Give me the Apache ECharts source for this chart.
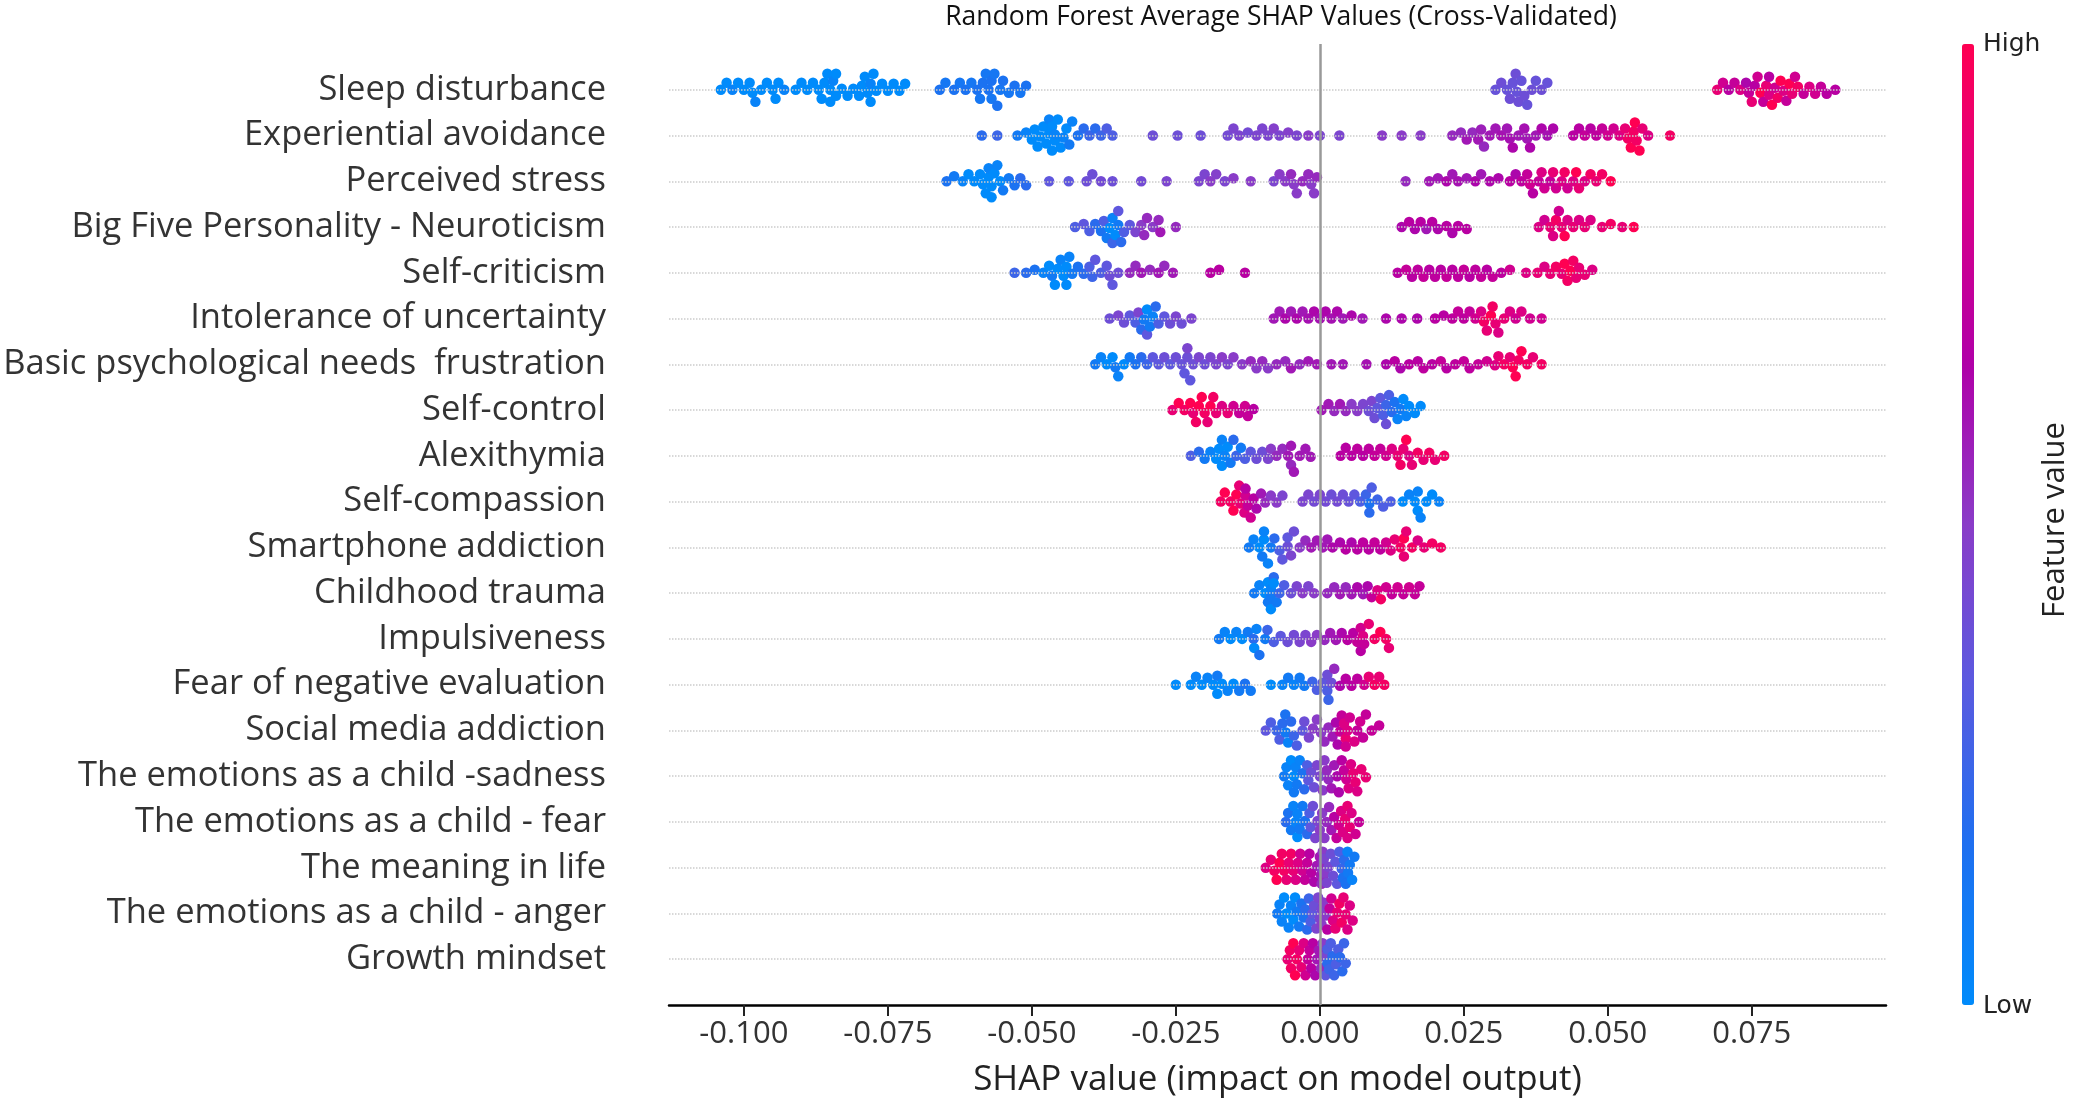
<!DOCTYPE html>
<html>
<head>
<meta charset="utf-8">
<title>Random Forest Average SHAP Values</title>
<script src="https://cdn.jsdelivr.net/npm/echarts@6/dist/echarts.min.js"></script>
<style>
  html, body { margin: 0; padding: 0; background: #fff; }
  #chart { width: 2077px; height: 1101px; }
</style>
</head>
<body>
<div id="chart"></div>
<script>
// feature names, top row first
var featureNames = [
  'Sleep disturbance',
  'Experiential avoidance',
  'Perceived stress',
  'Big Five Personality - Neuroticism',
  'Self-criticism',
  'Intolerance of uncertainty',
  'Basic psychological needs  frustration',
  'Self-control',
  'Alexithymia',
  'Self-compassion',
  'Smartphone addiction',
  'Childhood trauma',
  'Impulsiveness',
  'Fear of negative evaluation',
  'Social media addiction',
  'The emotions as a child -sadness',
  'The emotions as a child - fear',
  'The meaning in life',
  'The emotions as a child - anger',
  'Growth mindset'
];

var xTicks = [-0.1, -0.075, -0.05, -0.025, 0, 0.025, 0.05, 0.075];
var rowTicks = [0, 1, 2, 3, 4, 5, 6, 7, 8, 9, 10, 11, 12, 13, 14, 15, 16, 17, 18, 19];

// each point: [SHAP value in units of 0.001, feature value 0 (low) .. 1 (high)]
var sleepDisturbance = [
  [-104,0],[-103,0],[-102,.05],[-101,0],[-100,0],[-99,0],[-98.5,0],[-98,.05],[-97,0],[-96,0],[-95,0],[-94.5,0],
  [-94,0],[-93,.05],[-91,0],[-90,0],[-89,0],[-88,0],[-87,0],[-86.5,0],[-86,0],[-85.5,0],[-85,0],[-85,0],
  [-84.5,.05],[-84,0],[-84,0],[-83,0],[-82,0],[-81,0],[-80,0],[-79.5,0],[-79,0],[-78.5,0],[-78,0],[-78,.05],
  [-77.5,0],[-77,0],[-76,0],[-75,0],[-74,0],[-73,0],[-72,0],
  [-66,.15],[-65,.12],[-63.5,.15],[-62.5,.12],[-61.5,.15],[-60.5,.12],[-59.5,.15],[-59,.12],[-58.5,.15],[-58,.12],
  [-57.5,.15],[-57,.12],[-57,.15],[-56.5,.12],[-56,.15],[-55.5,.12],[-55,.15],[-54,.12],[-53,.15],[-52,.12],[-51,.15],
  [30.5,.38],[31.5,.4],[32.5,.38],[33,.4],[33.5,.38],[34,.4],[34.2,.38],[34.5,.4],[35,.38],[35.5,.4],[36,.38],
  [36.8,.4],[37.5,.38],[38.5,.4],[39.5,.38],
  [69,.9],[70,.8],[71,.7],[72,.75],[73,.85],[74,.65],[74.5,.75],[75,.9],[75.5,.7],[76,.8],[76.5,1],[77,.75],
  [77.5,.9],[78,.7],[78,.85],[78.5,1],[79,.8],[79.5,.95],[80,1],[80.5,.85],[81,.75],[81.5,1],[82,.9],[82.5,.8],
  [83,.95],[84,.75],[85,.85],[86,.8],[87,.75],[88,.7],[89.5,.7]
];
var experientialAvoidance = [
  [-58.7,.2],[-56,.25],[-52.5,.1],[-51,.05],[-50,0],[-49.5,0],[-49,0],[-48.5,0],[-48,0],[-47.5,0],[-47,0],[-47,.05],
  [-46.5,0],[-46.5,0],[-46,0],[-46,.05],[-45.5,0],[-45,0],[-44.5,.05],[-44,0],[-43.5,.1],[-43,.05],[-42,.15],
  [-41,.2],[-40,.25],[-39,.2],[-38,.25],[-37,.3],[-36,.3],[-29,.4],[-24.7,.4],[-20.7,.4],[-16,.42],[-15,.45],
  [-14,.45],[-12.5,.42],[-11,.45],[-10,.45],[-9,.45],[-8,.48],[-7,.45],[-5.5,.48],[-4,.45],[-2,.5],[0,.45],[3.4,.45],
  [10.8,.5],[14.2,.5],[17.5,.5],[23,.55],[24.5,.55],[25.5,.6],[26.5,.55],[27.5,.6],[28,.58],[28.5,.55],[29.5,.6],
  [30.5,.6],[31.5,.62],[32.5,.6],[33,.62],[33.5,.65],[34.5,.6],[35.5,.62],[36,.6],[36.5,.65],[37.5,.6],[38.5,.65],
  [39.5,.62],[40.5,.65],[44,.7],[45,.7],[46,.75],[47,.7],[48,.72],[49,.75],[50,.8],[51,.8],[52,.85],[53,.9],
  [53.5,.95],[54,1],[54.5,.95],[54.7,1],[55,.95],[55.5,1],[56,.9],[57,.85],[60.8,.95]
];
var perceivedStress = [
  [-64.8,.15],[-63.5,.1],[-62,.05],[-61,0],[-60,0],[-59,0],[-58.5,0],[-58,0],[-57.5,0],[-57.5,.05],[-57,0],[-57,0],
  [-56.5,0],[-56,.05],[-55.5,0],[-55,.1],[-54,.1],[-53,.15],[-52,.2],[-51,.2],[-47,.35],[-43.6,.35],[-40.5,.4],
  [-39.5,.4],[-38,.42],[-36,.4],[-31,.42],[-26.6,.45],[-21,.45],[-20,.45],[-19,.5],[-18,.48],[-16.5,.45],[-15,.5],
  [-12,.5],[-8,.45],[-7,.5],[-6,.5],[-5,.55],[-4.5,.5],[-4,.5],[-3,.55],[-2,.55],[-1.5,.5],[-1,.5],[-0.5,.55],
  [14.9,.55],[19,.6],[20.5,.6],[22,.65],[23,.6],[24,.62],[25.5,.6],[27,.65],[28,.6],[29.5,.65],[31,.65],[33,.7],
  [34,.65],[35,.72],[36,.75],[36.5,.8],[37,.7],[38,.75],[38.5,.85],[39,.8],[40,.75],[40.5,.9],[41,.8],[42,.85],
  [42.5,.95],[43,.8],[44,.85],[44.5,1],[45,.9],[46,.85],[47,.95],[48,.9],[49,.95],[50.5,1]
];
var neuroticism = [
  [-42.5,.3],[-41,.35],[-40,.3],[-39,.2],[-38,.15],[-37.5,.3],[-37,.1],[-36.5,0],[-36,.05],[-36,.25],[-35.5,0],
  [-35,.1],[-35,.35],[-34.5,.2],[-34,.3],[-33,.35],[-32,.45],[-31,.5],[-30.5,.55],[-30,.55],[-29,.5],[-28,.55],
  [-27.7,.6],[-25,.55],[14.2,.65],[15.5,.7],[16.5,.65],[17.5,.7],[18.5,.6],[19.5,.7],[20.5,.65],[22,.7],[23,.65],
  [24,.7],[25.5,.7],[38,.85],[39,.8],[40,.9],[40.5,.85],[41,.95],[41.5,.8],[42,.9],[42.5,1],[43,.85],[44,.9],
  [45,.85],[46,.9],[47,.85],[49,.9],[50.5,.95],[52.5,.9],[54.5,1]
];
var selfCriticism = [
  [-53,.25],[-51,.2],[-49.5,.15],[-48,.05],[-47,0],[-46.5,.1],[-46,0],[-45.5,0],[-45,.05],[-44.5,0],[-44,0],[-44,0],
  [-43.5,.05],[-43,.1],[-42,.15],[-41,.2],[-40,.3],[-39.5,.25],[-39,.35],[-38,.3],[-37,.35],[-36.5,.4],[-36,.35],
  [-35,.4],[-33,.55],[-32,.55],[-31,.6],[-29.5,.55],[-28,.6],[-27,.55],[-25.5,.6],[-19,.7],[-17.5,.7],[-13,.7],
  [13.5,.7],[15,.75],[16,.7],[17,.72],[18,.75],[19,.7],[20,.72],[21,.7],[22,.75],[23,.7],[24,.72],[25,.75],[26,.7],
  [27,.72],[28,.75],[29,.7],[30,.75],[31.5,.72],[33,.8],[35.8,.85],[37.8,.9],[39,.85],[40,.9],[41,.95],[42,.9],
  [42.5,1],[43,.95],[43.5,1],[44,.95],[44.5,.9],[45,.9],[46,.9],[47.3,.85]
];
var intolerance = [
  [-36.5,.4],[-35,.45],[-34,.4],[-33,.35],[-32,.3],[-31.5,.45],[-31,.2],[-30.5,.1],[-30,0],[-30,.35],[-29.5,.1],
  [-29,.05],[-28.5,.2],[-28,.3],[-27,.35],[-26,.4],[-25,.45],[-24,.4],[-22.3,.45],[-8,.6],[-7,.6],[-6,.65],[-5,.6],
  [-4,.65],[-3,.6],[-2,.62],[-1,.65],[0,.62],[1,.65],[2,.62],[3,.65],[4,.6],[5.5,.65],[7.4,.6],[11.5,.65],[14.2,.65],
  [16.9,.65],[20,.7],[21.5,.7],[23,.72],[24,.75],[25,.72],[26,.75],[27,.8],[28,.85],[28.5,.95],[29,.9],[29.7,1],
  [30,.95],[30.5,.9],[31,.85],[32,.9],[33,.85],[34,.8],[35,.85],[36.5,.8],[38.5,.8]
];
var basicNeeds = [
  [-39,.1],[-38,.05],[-37,0],[-36,0],[-35.5,.1],[-35,.05],[-34,0],[-33,.1],[-32,.15],[-31,.2],[-30,.25],[-29,.35],
  [-28,.35],[-27,.4],[-26,.35],[-25,.4],[-24,.38],[-23.5,.35],[-23,.4],[-23,.45],[-22.5,.35],[-22,.4],[-21,.45],
  [-20,.4],[-19,.45],[-18,.45],[-17,.5],[-16,.45],[-15,.5],[-13.5,.5],[-12,.55],[-11,.5],[-10,.55],[-9,.5],
  [-7.5,.55],[-6,.55],[-5,.6],[-3.5,.55],[-2,.6],[-0.5,.6],[2,.6],[4,.6],[8.1,.62],[11.5,.65],[13,.7],[14,.65],
  [15.5,.7],[17,.7],[18,.72],[19.5,.7],[21,.75],[22,.7],[23.5,.72],[25,.75],[26,.72],[27.5,.75],[29,.8],[30.4,.85],
  [31,.9],[32,.95],[33,.9],[33.5,1],[34,1],[34.5,.95],[35,1],[36,.95],[37,.9],[38.5,.95]
];
var selfControl = [
  [-25.6,.9],[-24.5,1],[-23.5,.95],[-22.5,1],[-22,.9],[-21.5,.95],[-21,1],[-20.5,1],[-20,.95],[-19.5,.9],[-19,1],
  [-18.5,.95],[-18,.9],[-17,.85],[-16,.9],[-15,.8],[-14,.75],[-13,.8],[-12.5,.75],[-11.5,.7],[0.3,.6],[1.5,.6],
  [2.5,.55],[3.5,.6],[4.5,.55],[5.5,.5],[6.5,.5],[7.5,.45],[8.5,.4],[9,.45],[9.5,.4],[10,.35],[10.5,.35],[11,.3],
  [11.5,.25],[11.5,.4],[12,.3],[12.5,.2],[13,.15],[13.5,.05],[14,.1],[14.5,0],[15,.05],[15.5,0],[16.5,0],[17.5,0]
];
var alexithymia = [
  [-22.4,.3],[-21,.2],[-20,.1],[-19,.05],[-18,0],[-17.5,0],[-17,0],[-17,.05],[-16.5,.05],[-16,0],[-15.5,.1],
  [-15,.2],[-14.5,.25],[-13.7,.1],[-13,.3],[-12,.35],[-11,.4],[-10,.4],[-9,.45],[-8.5,.5],[-7.5,.55],[-6.5,.55],
  [-5.5,.6],[-5,.55],[-5,.6],[-4.5,.6],[-3.5,.6],[-2.5,.6],[-1.6,.6],[3.6,.7],[4.5,.7],[5.5,.7],[6.5,.72],[7.5,.7],
  [8.5,.72],[9.5,.75],[10.5,.75],[11.5,.8],[12.5,.85],[13.5,.9],[14,.95],[14.5,.9],[15,1],[15.5,.85],[16,.9],
  [17,.95],[18,.9],[19,.95],[20,.9],[21.6,.95]
];
var selfCompassion = [
  [-17.2,.95],[-16.5,1],[-15.5,.95],[-15,1],[-14.5,1],[-14,.9],[-13.8,.9],[-13.1,.85],[-12.9,.8],[-12.9,.7],
  [-12.5,.75],[-12,.8],[-11.5,.7],[-11,.65],[-10.2,.6],[-9.5,.55],[-8.5,.5],[-7.5,.5],[-6.5,.45],[-3,.45],[-2,.45],
  [-1,.42],[0,.45],[1,.42],[2,.4],[3,.42],[4,.4],[5,.38],[6,.35],[7,.3],[8,.25],[8.6,.15],[8.6,.2],[9,.3],[10,.25],
  [11,.3],[12.3,.3],[14.4,0],[15.5,.05],[16.5,0],[17,0],[17,.05],[17.5,.05],[18.5,0],[19.5,0],[20.7,.05]
];
var smartphone = [
  [-12.3,.1],[-11.5,.05],[-10.5,0],[-10,.1],[-9.7,0],[-9.7,.05],[-9,.05],[-8.5,.1],[-7.9,.2],[-7,.3],[-6.5,.35],
  [-5.6,.4],[-5.6,.35],[-5,.45],[-4.5,.4],[-3.5,.5],[-2.5,.55],[-1.5,.6],[-0.5,.6],[0.5,.6],[1.3,.6],[2.2,.65],
  [3.5,.65],[4.5,.7],[5.5,.65],[6.5,.7],[7.5,.72],[8.5,.7],[9.5,.75],[10.5,.72],[11.5,.8],[12.3,.85],[13,.9],
  [14,.95],[14.6,1],[14.6,.9],[15,.9],[16,.95],[17,.85],[18.1,.9],[19.5,.95],[21,.95]
];
var childhoodTrauma = [
  [-11.4,.1],[-10.5,.05],[-9.5,0],[-9,.1],[-9,0],[-8.5,0],[-8.5,.05],[-8.5,.1],[-8,.2],[-8,0],[-7.5,.1],[-7,.25],
  [-6.2,.3],[-5,.4],[-4,.45],[-3,.5],[-2,.45],[-1,.5],[1.3,.55],[2.5,.55],[3.5,.6],[4.5,.55],[5.5,.6],[6.5,.65],
  [7.5,.6],[8.3,.65],[9,.75],[10,.85],[10.6,.95],[11.5,.8],[12.5,.75],[13.5,.8],[14.5,.75],[15.5,.8],[16.5,.75],
  [17.3,.75]
];
var impulsiveness = [
  [-17.5,.1],[-16.5,.05],[-15.5,0],[-14.5,.05],[-13.5,0],[-12.5,.1],[-11.5,.2],[-11.4,0],[-11,.05],[-10.5,.15],
  [-9.5,.1],[-9.1,.25],[-8,.3],[-6.8,.35],[-5.6,.4],[-4.5,.42],[-3.5,.45],[-2.5,.45],[-1.5,.5],[-0.5,.5],[0.8,.55],
  [1.8,.6],[2.8,.6],[3.8,.65],[4.8,.7],[5.8,.7],[6.5,.75],[7.1,.8],[7.1,.7],[7.5,.85],[7.7,.75],[8.5,.9],[9.5,.95],
  [10.5,1],[11.5,.95],[12,.9]
];
var fearNegEval = [
  [-25,0],[-22.4,0],[-21.5,.05],[-20.5,0],[-19.5,.05],[-18.5,0],[-17.8,.1],[-17.8,0],[-17,0],[-16,.05],[-15,0],
  [-14,.1],[-13,.15],[-12,.1],[-8.5,0],[-6.5,.05],[-5.5,.1],[-4.5,.05],[-3.5,.1],[-2.7,.1],[-1.3,.25],[-0.5,.3],
  [0.5,.35],[1.3,.3],[1.3,.4],[1.5,.25],[2,.4],[2.5,.55],[3.5,.65],[4.5,.7],[5.5,.7],[6.5,.72],[7.7,.8],[8.5,.9],
  [9.5,.95],[10.3,.9],[11.2,.95]
];
var socialMedia = [
  [-9.4,.35],[-8.5,.3],[-7.5,.25],[-7,.3],[-6.5,.2],[-6,.15],[-5.9,.1],[-5.5,.05],[-5,.2],[-4.5,.25],[-4,.3],
  [-3,.35],[-2.7,.4],[-1.9,.45],[-1.2,.5],[-0.5,.5],[0.2,.5],[0.8,.55],[1.5,.55],[2.2,.6],[2.8,.65],[3.1,.65],
  [3.5,.75],[3.8,.75],[4.2,.85],[4.5,.9],[4.5,.8],[4.8,.85],[5.2,.8],[6,.85],[6.5,.75],[7,.8],[7.5,.75],[8,.75],
  [9,.75],[10.3,.75]
];
var sadness = [
  [-6.2,.1],[-5.8,.05],[-5.5,.05],[-5,0],[-4.5,0],[-4.5,.1],[-4.2,.05],[-4,.1],[-3.5,.05],[-3,.15],[-2.7,.2],
  [-2.2,.3],[-2,.35],[-1.5,.4],[-1,.4],[-0.5,.45],[0,.45],[0.5,.5],[0.8,.5],[1.2,.55],[1.5,.55],[2,.6],[2.5,.6],
  [3,.65],[3.3,.65],[3.8,.7],[4.2,.75],[4.6,.8],[5,.85],[5.4,.85],[5.8,.9],[6.2,.9],[6.5,.85],[7.2,.9],[8,.9]
];
var fearChild = [
  [-5.9,.2],[-5.5,.15],[-5,.1],[-4.6,.05],[-4.2,.05],[-3.9,0],[-3.9,.05],[-3.5,.1],[-3,.1],[-2.6,.15],[-2.2,.2],
  [-1.8,.3],[-1.6,.35],[-1.2,.4],[-0.8,.45],[-0.4,.45],[0,.5],[0.4,.5],[0.8,.5],[1.2,.55],[1.6,.55],[2,.6],[2.5,.7],
  [2.9,.75],[3.3,.8],[3.7,.85],[4,.85],[4.4,.9],[4.8,.9],[4.8,.85],[5.2,.9],[5.5,.85],[6.2,.8],[6.8,.75]
];
var meaningLife = [
  [-9.4,.85],[-8.5,.9],[-7.9,.95],[-7.5,1],[-7,1],[-6.6,.95],[-6.2,.95],[-5.8,.9],[-5.4,.9],[-5,.95],[-4.6,.9],
  [-4.2,.85],[-3.8,.85],[-3.4,.8],[-3,.8],[-2.6,.75],[-2.2,.75],[-1.8,.7],[-1.5,.7],[-1,.65],[-0.5,.6],[0,.6],
  [0.2,.6],[0.3,.55],[0.4,.5],[0.5,.55],[0.5,.5],[0.6,.55],[0.7,.45],[0.8,.5],[1.2,.45],[1.5,.45],[1.9,.4],[2.3,.4],
  [2.7,.35],[3,.35],[3.4,.3],[3.8,.25],[4,.15],[4.2,.2],[4.5,.15],[4.8,.05],[4.9,.1],[5.2,.1],[5.6,.05],[6,.1]
];
var angerChild = [
  [-7.4,.1],[-7,.05],[-6.6,.05],[-6.2,0],[-5.8,0],[-5.4,.05],[-5,.05],[-4.6,0],[-4.3,0],[-4,.1],[-3.6,.1],
  [-3.2,.15],[-2.8,.15],[-2.5,.2],[-2.2,.2],[-1.9,.25],[-1.6,.3],[-1.3,.35],[-1,.4],[-0.6,.45],[-0.3,.45],[0,.45],
  [0.3,.45],[0.3,.5],[0.6,.5],[1,.5],[1.3,.7],[1.7,.75],[2,.8],[2.3,.85],[2.7,.9],[3,.9],[3.4,.95],[3.8,.95],
  [4.1,.9],[4.5,.9],[4.8,.85],[5.2,.85],[5.7,.85]
];
var growthMindset = [
  [-5.6,.9],[-5.2,.95],[-5,.95],[-4.6,1],[-4.3,1],[-4,.95],[-3.6,.9],[-3.2,.9],[-2.8,.85],[-2.5,.8],[-2.1,.75],
  [-1.8,.75],[-1.5,.7],[-1.2,.7],[-0.8,.65],[-0.5,.6],[-0.2,.6],[0.2,.55],[0.5,.5],[0.8,.45],[1,.35],[1.3,.2],
  [1.3,.3],[1.6,.25],[1.9,.3],[2.2,.2],[2.5,.25],[2.8,.3],[3.2,.3],[3.5,.2],[3.9,.2],[4.2,.25],[4.5,.25]
];

var featureRows = [
  sleepDisturbance, experientialAvoidance, perceivedStress, neuroticism, selfCriticism,
  intolerance, basicNeeds, selfControl, alexithymia, selfCompassion, smartphone,
  childhoodTrauma, impulsiveness, fearNegEval, socialMedia, sadness, fearChild,
  meaningLife, angerChild, growthMindset
];

var colorStops = ['#008bfb', '#1e6ff0', '#5a5ae0', '#8a3cc8', '#b000a8', '#d8008a', '#ff0052'];

var W = 2077, H = 1101;
var grid = { left: 669, right: 191, top: 44, bottom: 96 };
var xMin = -0.113, xMax = 0.0983;
var n = featureNames.length;

// beeswarm: pixel-space collision layout, points pushed up/down until they no longer overlap
var pxPerUnit = (W - grid.left - grid.right) / ((xMax - xMin) * 1000);
var pxPerRow = (H - grid.top - grid.bottom) / (n + 1);
function swarm(points, rowY) {
  var minDist = 9, step = 1, maxOff = 0.36 * pxPerRow;
  var order = points.map(function (p, i) { return i; })
    .sort(function (a, b) { return points[a][0] - points[b][0]; });
  var placed = [];
  var offs = [];
  order.forEach(function (i) {
    var px = points[i][0] * pxPerUnit;
    var near = placed.filter(function (q) { return Math.abs(q[0] - px) < minDist; });
    var best = 0, bestGap = -1;
    for (var k = 0; k <= 2 * Math.floor(maxOff / step); k++) {
      var off = Math.ceil(k / 2) * step * (k % 2 ? 1 : -1);
      var gap = Infinity;
      near.forEach(function (q) {
        var d = Math.hypot(q[0] - px, q[1] - off);
        if (d < gap) gap = d;
      });
      if (gap >= minDist) { best = off; bestGap = gap; break; }
      if (gap > bestGap) { best = off; bestGap = gap; }
    }
    placed.push([px, best]);
    offs[i] = best;
  });
  return points.map(function (p, i) {
    return [p[0] / 1000, rowY + offs[i] / pxPerRow, p[1]];
  });
}

var dots = [];
featureRows.forEach(function (row, i) {
  dots = dots.concat(swarm(row, n - 1 - i));
});

var chart = echarts.init(document.getElementById('chart'));
var font = 'Open Sans';

chart.setOption({
  backgroundColor: '#fff',
  animation: false,
  grid: { left: grid.left, right: grid.right, top: grid.top, bottom: grid.bottom, outerBoundsMode: 'none' },
  xAxis: {
    type: 'value',
    min: xMin,
    max: xMax,
    splitLine: { show: false },
    axisLine: { show: true, onZero: false, lineStyle: { color: '#000', width: 2.5 } },
    axisTick: { show: true, customValues: xTicks, length: 11, lineStyle: { color: '#222', width: 2 } },
    axisLabel: {
      customValues: xTicks,
      formatter: function (v) { return v.toFixed(3); },
      fontSize: 31, color: '#333', margin: 14, fontFamily: font
    },
    name: 'SHAP value (impact on model output)',
    nameLocation: 'middle',
    nameGap: 58,
    nameTextStyle: { fontSize: 35, color: '#222', fontFamily: font }
  },
  yAxis: {
    type: 'value',
    min: -1,
    max: n,
    splitLine: { show: false },
    axisLine: { show: false },
    axisTick: { show: false },
    axisLabel: {
      customValues: rowTicks,
      formatter: function (v) { return featureNames[n - 1 - v]; },
      fontSize: 34.5, color: '#333', margin: 63, fontFamily: font
    }
  },
  visualMap: {
    type: 'continuous',
    min: 0, max: 1,
    dimension: 2,
    seriesIndex: 0,
    orient: 'vertical',
    left: 1962, top: 44,
    padding: 0,
    itemWidth: 12,
    itemHeight: 961,
    calculable: false,
    inRange: { color: colorStops }
  },
  graphic: [
    { type: 'text', x: 1281, y: 17, style: { text: 'Random Forest Average SHAP Values (Cross-Validated)', font: '26.5px "Open Sans"', fill: '#111', textAlign: 'center', textVerticalAlign: 'middle' } },
    { type: 'text', x: 1983, y: 44, style: { text: 'High', font: '25px "DejaVu Sans"', fill: '#222', textAlign: 'left', textVerticalAlign: 'middle' } },
    { type: 'text', x: 1983, y: 1006, style: { text: 'Low', font: '25px "DejaVu Sans"', fill: '#222', textAlign: 'left', textVerticalAlign: 'middle' } },
    { type: 'text', x: 2055, y: 520, rotation: Math.PI / 2, style: { text: 'Feature value', font: '31px "Open Sans"', fill: '#222', textAlign: 'center', textVerticalAlign: 'middle' } }
  ],
  series: [
    {
      type: 'scatter',
      data: dots,
      symbolSize: 10.5,
      z: 2,
      itemStyle: { opacity: 1 }
    },
    {
      type: 'line',
      data: [],
      z: 1,
      markLine: {
        silent: true,
        symbol: 'none',
        label: { show: false },
        lineStyle: { color: '#cccccc', type: 'dotted', width: 1.5 },
        data: rowTicks.map(function (r) { return { yAxis: r }; })
      }
    },
    {
      type: 'line',
      data: [],
      z: 3,
      markLine: {
        silent: true,
        symbol: 'none',
        label: { show: false },
        lineStyle: { color: '#999999', type: 'solid', width: 2.5 },
        data: [{ xAxis: 0 }]
      }
    }
  ]
});
</script>
</body>
</html>
